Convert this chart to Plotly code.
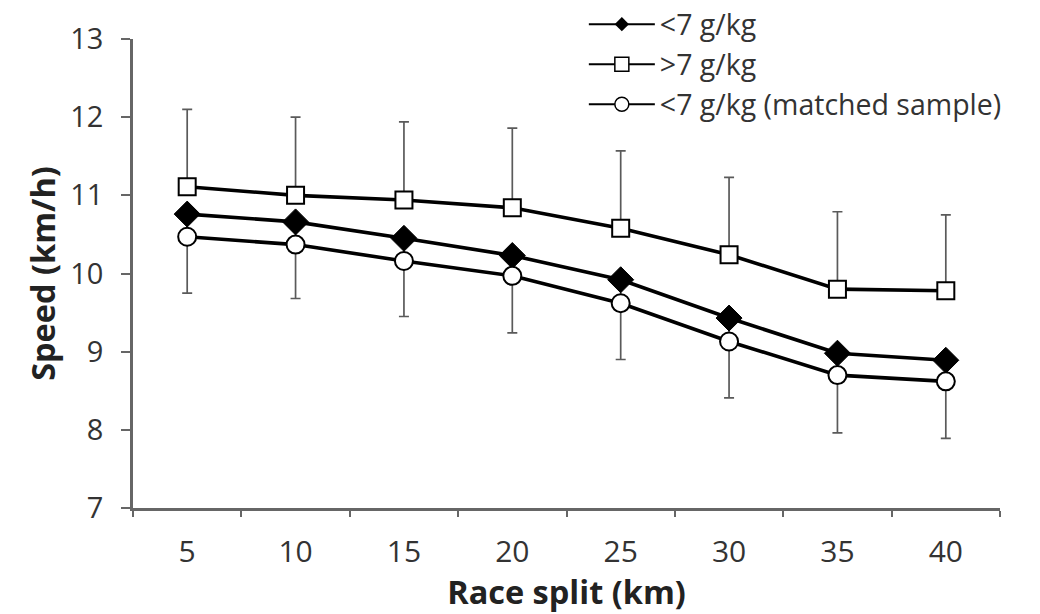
import plotly.graph_objects as go

splits = ["5", "10", "15", "20", "25", "30", "35", "40"]
low_speed = [10.76, 10.66, 10.45, 10.23, 9.92, 9.43, 8.98, 8.89]
low_sd = [1.01, 0.98, 1.00, 0.99, 1.02, 1.02, 1.02, 1.00]
high_speed = [11.11, 11.00, 10.94, 10.84, 10.58, 10.24, 9.80, 9.78]
high_sd = [0.99, 1.00, 1.00, 1.02, 0.99, 0.99, 0.99, 0.97]
matched_speed = [10.47, 10.37, 10.16, 9.97, 9.62, 9.13, 8.70, 8.62]
names = ["<7 g/kg", ">7 g/kg", "<7 g/kg (matched sample)"]

FONT = "Open Sans"
ERR = dict(color="#5a5a5a", thickness=1.7, width=5)

fig = go.Figure()
fig.add_trace(go.Scatter(
    x=splits, y=low_speed, mode="lines+markers", showlegend=False,
    line=dict(color="black", width=3.6),
    marker=dict(symbol="diamond", size=20, color="black", line=dict(color="black", width=1)),
    error_y=dict(type="data", symmetric=False, array=[0]*len(splits), arrayminus=low_sd, **ERR),
))
fig.add_trace(go.Scatter(
    x=splits, y=high_speed, mode="lines+markers", showlegend=False,
    line=dict(color="black", width=3.6),
    marker=dict(symbol="square", size=17, color="white", line=dict(color="black", width=2)),
    error_y=dict(type="data", symmetric=False, array=high_sd, arrayminus=[0]*len(splits), **ERR),
))
fig.add_trace(go.Scatter(
    x=splits, y=matched_speed, mode="lines+markers", showlegend=False,
    line=dict(color="black", width=3.6),
    marker=dict(symbol="circle", size=18, color="white", line=dict(color="black", width=2)),
))

# legend entries
fig.add_trace(go.Scatter(x=[None], y=[None], mode="lines+markers", name=names[0],
    line=dict(color="black", width=2),
    marker=dict(symbol="diamond", size=11, color="black")))
fig.add_trace(go.Scatter(x=[None], y=[None], mode="lines+markers", name=names[1],
    line=dict(color="black", width=2),
    marker=dict(symbol="square", size=14, color="white", line=dict(color="black", width=1.5))))
fig.add_trace(go.Scatter(x=[None], y=[None], mode="lines+markers", name=names[2],
    line=dict(color="black", width=2),
    marker=dict(symbol="circle", size=14, color="white", line=dict(color="black", width=1.5))))

# page has an 8px body margin: figure coordinates = page coordinates - 8
fig.update_layout(
    width=1032, height=606,
    margin=dict(l=125, r=40, t=31, b=106, autoexpand=False),
    paper_bgcolor="white", plot_bgcolor="white",
    font=dict(family=FONT, color="#333333", size=28.5),
    legend=dict(x=0.52, y=1.085, xanchor="left", yanchor="top",
                bgcolor="rgba(0,0,0,0)", itemwidth=66, tracegroupgap=0,
                font=dict(size=28.5, color="#333333")),
    xaxis=dict(
        type="category", categoryorder="array", categoryarray=splits,
        range=[-0.5, 7.5], tickson="boundaries", ticks="outside", ticklen=6,
        tickwidth=2, tickcolor="#666666", automargin=False,
        showline=True, linecolor="#666666", linewidth=2.5, showgrid=False, zeroline=False,
        tickfont=dict(size=30, color="#333333"), ticklabelstandoff=15,
        title=dict(text="<b>Race split (km)</b>", font=dict(size=32.5, color="#222222"), standoff=10),
    ),
    yaxis=dict(
        range=[7, 13], dtick=1, ticks="outside", ticklen=9, tickwidth=2, tickcolor="#666666",
        showline=True, linecolor="#666666", linewidth=2.5, showgrid=False, zeroline=False,
        automargin=False,
        tickfont=dict(size=29, color="#333333"), ticklabelstandoff=12,
        title=dict(text="<b>Speed (km/h)</b>", font=dict(size=32.5, color="#222222"), standoff=5),
    ),
)

fig.write_html("out.html")
